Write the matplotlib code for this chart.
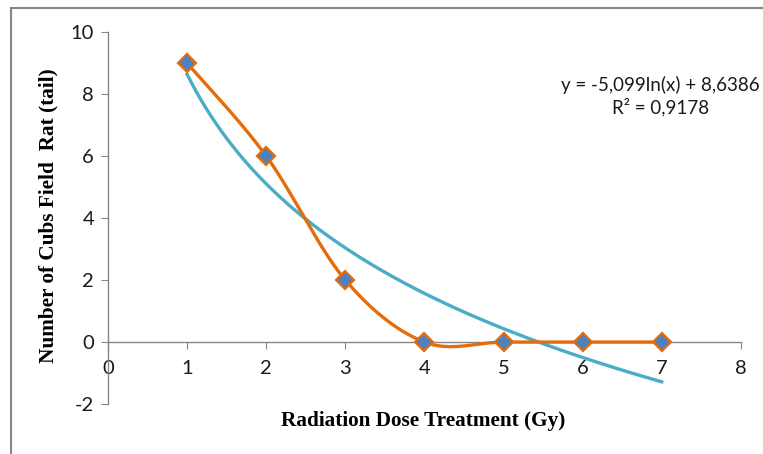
import numpy as np
import matplotlib
matplotlib.use("Agg")
import matplotlib.pyplot as plt
from matplotlib.patches import Rectangle

plt.rcParams["axes.unicode_minus"] = False

# data
dose = [1, 2, 3, 4, 5, 6, 7]
cubs = [9, 6, 2, 0, 0, 0, 0]
# logarithmic trendline y = a*ln(x) + b
trend_a = -5.099
trend_b = 8.6386
eq_text = "y = -5,099ln(x) + 8,6386\nR² = 0,9178"

ORANGE = "#E46C0A"
BLUE = "#4F81BD"
CYAN = "#4BACC6"
GRAY = "#868686"


def smooth(xs, ys, n=40):  # Catmull-Rom like Excel smoothed line
    xs = np.asarray(xs, float)
    ys = np.asarray(ys, float)
    px = np.concatenate([[xs[0]], xs, [xs[-1]]])
    py = np.concatenate([[ys[0]], ys, [ys[-1]]])
    outx, outy = [], []
    for i in range(1, len(px) - 2):
        p0 = np.array([px[i], py[i]])
        p3 = np.array([px[i + 1], py[i + 1]])
        c1 = p0 + (p3 - np.array([px[i - 1], py[i - 1]])) / 6
        c2 = p3 - (np.array([px[i + 2], py[i + 2]]) - p0) / 6
        t = np.linspace(0, 1, n)[:, None]
        b = (1 - t) ** 3 * p0 + 3 * (1 - t) ** 2 * t * c1 + 3 * (1 - t) * t ** 2 * c2 + t ** 3 * p3
        outx.extend(b[:, 0])
        outy.extend(b[:, 1])
    return np.array(outx), np.array(outy)


fig = plt.figure(figsize=(7.63, 4.54), dpi=100)
ax = fig.add_axes([0.1415, 0.110, 0.8295, 0.8195])

# chart border
fig.patches.append(Rectangle((11 / 763, -0.05), 1.0, 1 - 8 / 454 + 0.05, transform=fig.transFigure,
                             fill=False, edgecolor=GRAY, linewidth=1.5))

tx = np.linspace(dose[0], dose[-1], 200)
ax.plot(tx, trend_a * np.log(tx) + trend_b, color=CYAN, linewidth=2.4, zorder=2)

sx, sy = smooth(dose, cubs)
ax.plot(sx, sy, color=ORANGE, linewidth=2.4, zorder=3)
ax.plot(dose, cubs, linestyle="none", marker="D", markersize=9.5, markerfacecolor=BLUE,
        markeredgecolor=ORANGE, markeredgewidth=1.6, zorder=4)

ax.set_xlim(0, 8)
ax.set_ylim(-2, 10)
ax.set_xticks(range(0, 9))
ax.set_yticks(range(-2, 11, 2))

ax.spines["bottom"].set_position(("data", 0))
ax.spines["top"].set_visible(False)
ax.spines["right"].set_visible(False)
for s in ("left", "bottom"):
    ax.spines[s].set_color(GRAY)
    ax.spines[s].set_linewidth(1.0)
ax.tick_params(axis="both", direction="out", length=5, color=GRAY, labelsize=14.5, pad=5)
ax.tick_params(axis="x", pad=8)
for lab in ax.get_xticklabels() + ax.get_yticklabels():
    lab.set_fontfamily("Lato")
    lab.set_color("#1a1a1a")

ax.text(6.98, 7.93, eq_text, ha="center", va="center", fontsize=13.5, fontfamily="Lato",
        linespacing=1.2, color="#1a1a1a")

fig.text(0.555, 0.073, "Radiation Dose Treatment (Gy)", ha="center", va="center",
         fontsize=15.3, fontweight="bold", fontfamily="Liberation Serif")
fig.text(0.064, 0.524, "Number of Cubs Field  Rat (tail)", ha="center", va="center",
         rotation=90, fontsize=15.3, fontweight="bold", fontfamily="Liberation Serif")

fig.savefig("out.png", dpi=100)
